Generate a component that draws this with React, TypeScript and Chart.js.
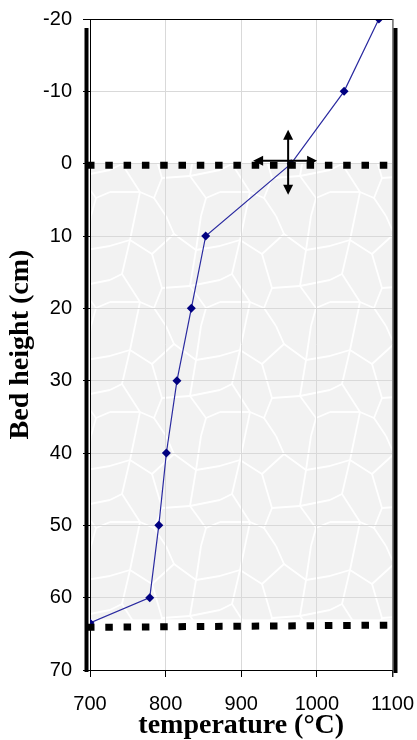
import React, { useEffect, useRef } from "react";
import { Chart, registerables } from "chart.js";

Chart.register(...registerables);

// ---- data ----
const depthCm = [-20, -10, 0, 10, 20, 30, 40, 50, 60, 63.5];
const temperatureC = [1082, 1036, 966, 853, 834, 815, 801, 791, 779, 700];
const xTickValues = [700, 800, 900, 1000, 1100];
const yTickValues = [-20, -10, 0, 10, 20, 30, 40, 50, 60, 70];
const xTitle = "temperature (°C)";
const yTitle = "Bed height (cm)";
const bedTopCm = 0;
const bedBottomLeftCm = 64.1;
const bedBottomRightCm = 63.8;
const bedFillBottomCm = 63;
const arrowCenterTemp = 962;

// canvas is shifted up by SHIFT px and widened by WIDEN px (clipped); target plot area in canvas pixels
const SHIFT = 4;
const WIDEN = 12;
const AREA = { left: 90, top: 18 + SHIFT, right: 391, bottom: 670 + SHIFT };

function makeTexture(ctx: CanvasRenderingContext2D) {
  const c = document.createElement("canvas");
  c.width = 110;
  c.height = 110;
  const t = c.getContext("2d")!;
  t.fillStyle = "#f2f2f2";
  t.fillRect(0, 0, 110, 110);
  t.strokeStyle = "#ffffff";
  t.lineWidth = 1.8;
  t.lineJoin = "round";
  const paths: number[][] = [
    [0, 30, 20, 24, 42, 38, 64, 18, 86, 34, 110, 30],
    [20, 24, 12, 58, 30, 86, 25, 110],
    [25, 0, 20, 24],
    [42, 38, 52, 72, 44, 92, 56, 110],
    [56, 0, 64, 18],
    [86, 34, 80, 70, 96, 92, 91, 110],
    [91, 0, 86, 34],
    [12, 58, 0, 64],
    [110, 64, 80, 70],
    [52, 72, 80, 70],
    [30, 86, 44, 92],
    [96, 92, 110, 86],
    [0, 86, 30, 86],
  ];
  for (const p of paths) {
    t.beginPath();
    t.moveTo(p[0], p[1]);
    for (let i = 2; i < p.length; i += 2) t.lineTo(p[i], p[i + 1]);
    t.stroke();
  }
  return ctx.createPattern(c, "repeat");
}

const decorPlugin = {
  id: "decor",
  beforeDraw(chart: any) {
    const { ctx, chartArea, scales } = chart;
    const y0 = scales.y.getPixelForValue(bedTopCm);
    const y1 = scales.y.getPixelForValue(bedFillBottomCm);
    ctx.save();
    const pat = makeTexture(ctx);
    ctx.fillStyle = pat || "#f2f2f2";
    ctx.fillRect(chartArea.left, y0, chartArea.right - chartArea.left, y1 - y0);
    ctx.restore();
  },
  afterDatasetsDraw(chart: any) {
    const { ctx, chartArea, scales } = chart;
    const { left, right, top, bottom } = chartArea;
    ctx.save();
    // top and right borders
    ctx.strokeStyle = "#000";
    ctx.lineWidth = 1;
    ctx.beginPath();
    ctx.moveTo(left, top + 0.5);
    ctx.lineTo(right, top + 0.5);
    ctx.stroke();
    ctx.strokeStyle = "#333";
    ctx.beginPath();
    ctx.moveTo(right + 0.5, top);
    ctx.lineTo(right + 0.5, bottom + 7);
    ctx.stroke();

    // arrows
    const cx = scales.x.getPixelForValue(arrowCenterTemp);
    const cy = scales.y.getPixelForValue(0);
    ctx.strokeStyle = "#000";
    ctx.fillStyle = "#000";
    ctx.lineWidth = 2;
    const hy = cy - 3;
    ctx.beginPath();
    ctx.moveTo(cx, cy - 26);
    ctx.lineTo(cx, cy + 24);
    ctx.moveTo(cx - 26, hy);
    ctx.lineTo(cx + 21, hy);
    ctx.stroke();
    const head = (x: number, y: number, dx: number, dy: number) => {
      const L = 10, W = 5;
      const px = -dy, py = dx;
      ctx.beginPath();
      ctx.moveTo(x, y);
      ctx.lineTo(x - dx * L + px * W, y - dy * L + py * W);
      ctx.lineTo(x - dx * L - px * W, y - dy * L - py * W);
      ctx.closePath();
      ctx.fill();
    };
    head(cx, cy - 34, 0, -1);
    head(cx, cy + 31, 0, 1);
    head(cx - 35, hy, -1, 0);
    head(cx + 29, hy, 1, 0);

    // dotted bed boundaries
    ctx.setLineDash([7.5, 10.8]);
    ctx.lineWidth = 7;
    ctx.lineCap = "butt";
    ctx.strokeStyle = "#000";
    const yt = scales.y.getPixelForValue(bedTopCm) + 1.5;
    ctx.beginPath();
    ctx.moveTo(left - 3, yt);
    ctx.lineTo(right - 2, yt);
    ctx.stroke();
    ctx.beginPath();
    ctx.moveTo(left - 3, scales.y.getPixelForValue(bedBottomLeftCm));
    ctx.lineTo(right - 2, scales.y.getPixelForValue(bedBottomRightCm));
    ctx.stroke();
    ctx.setLineDash([]);

    // thick vertical bars
    ctx.lineWidth = 4;
    ctx.beginPath();
    ctx.moveTo(left - 3.5, top + 9);
    ctx.lineTo(left - 3.5, bottom + 2);
    ctx.moveTo(right + 3, top + 9);
    ctx.lineTo(right + 3, bottom + 3);
    ctx.stroke();
    ctx.restore();
  },
};

export default function App() {
  const ref = useRef<HTMLCanvasElement>(null);
  useEffect(() => {
    if (!ref.current) return;
    const chart: any = new Chart(ref.current, {
      type: "line",
      data: {
        datasets: [
          {
            data: temperatureC.map((t, i) => ({ x: t, y: depthCm[i] })),
            borderColor: "#2a2aa0",
            backgroundColor: "#000080",
            borderWidth: 1.2,
            pointStyle: "rectRot",
            pointRadius: 4.5,
            pointBackgroundColor: "#000080",
            pointBorderColor: "#000080",
            pointBorderWidth: 0,
            tension: 0,
            fill: false,
          },
        ],
      },
      options: {
        animation: false,
        responsive: true,
        maintainAspectRatio: false,
        layout: { padding: { top: AREA.top, right: 26, left: 0, bottom: 0 } },
        plugins: { legend: { display: false }, tooltip: { enabled: false } },
        scales: {
          x: {
            type: "linear",
            min: 700,
            max: 1100,
            afterBuildTicks: (s: any) => {
              s.ticks = xTickValues.map((v) => ({ value: v }));
            },
            afterFit: (s: any) => {
              s.height = 70;
            },
            grid: { color: "#d9d9d9", tickColor: "#000", tickLength: 7, lineWidth: 1 },
            border: { display: true, color: "#000", width: 1 },
            ticks: {
              color: "#000",
              padding: 15,
              maxRotation: 0,
              autoSkip: false,
              callback: (v: any) => String(v),
              font: { family: "'Liberation Sans', Arial, sans-serif", size: 20 },
            },
            title: {
              display: true,
              text: xTitle,
              color: "#000",
              padding: { top: 0, bottom: 0 },
              font: { family: "'Liberation Serif', 'Times New Roman', serif", size: 28, weight: "bold", lineHeight: 1 },
            },
          },
          y: {
            type: "linear",
            reverse: true,
            min: -20,
            max: 70,
            afterBuildTicks: (s: any) => {
              s.ticks = yTickValues.map((v) => ({ value: v }));
            },
            afterFit: (s: any) => {
              s.width = 90;
            },
            grid: { color: "#d9d9d9", tickColor: "#000", tickLength: 7, lineWidth: 1 },
            border: { display: true, color: "#000", width: 1 },
            ticks: {
              color: "#000",
              padding: 11,
              autoSkip: false,
              callback: (v: any) => String(v),
              font: { family: "'Liberation Sans', Arial, sans-serif", size: 20 },
            },
            title: {
              display: true,
              text: yTitle,
              color: "#000",
              padding: { top: 7, bottom: 0 },
              font: { family: "'Liberation Serif', 'Times New Roman', serif", size: 28, weight: "bold", lineHeight: 1 },
            },
          },
        },
      },
      plugins: [decorPlugin],
    } as any);
    // nudge layout padding so the plot area lands where the reference has it
    for (let i = 0; i < 4; i++) {
      const ca = chart.chartArea;
      const p = chart.options.layout.padding;
      const dTop = ca.top - AREA.top;
      const dRight = AREA.right - ca.right;
      const dLeft = ca.left - AREA.left;
      const dBottom = AREA.bottom - ca.bottom;
      if (Math.abs(dTop) < 0.5 && Math.abs(dRight) < 0.5 && Math.abs(dLeft) < 0.5 && Math.abs(dBottom) < 0.5) break;
      chart.options.layout.padding = {
        top: p.top - dTop,
        right: p.right - dRight,
        left: p.left - dLeft,
        bottom: p.bottom - dBottom,
      };
      chart.update();
    }
    return () => chart.destroy();
  }, []);
  return (
    <div style={{ position: "absolute", left: 0, top: 0, width: 417, height: 740, overflow: "hidden", background: "#fff" }}>
      <div style={{ position: "absolute", left: 0, top: -SHIFT, width: 417 + WIDEN, height: 740 + SHIFT }}>
        <canvas ref={ref} />
      </div>
    </div>
  );
}
